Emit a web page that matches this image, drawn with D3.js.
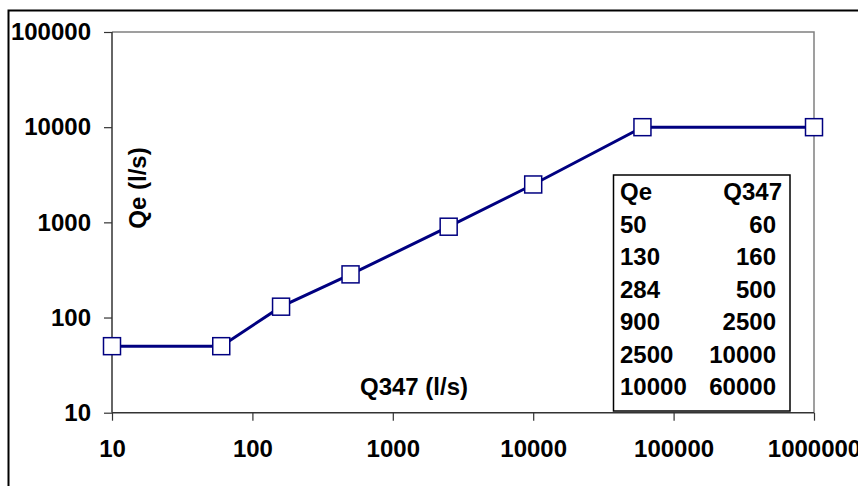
<!DOCTYPE html>
<html>
<head>
<meta charset="utf-8">
<script src="https://cdn.jsdelivr.net/npm/d3@7"></script>
<style>
  body { margin: 0; background: #fff; }
  svg text { font-family: "Liberation Sans", Arial, sans-serif; font-weight: bold; fill: #000; }
</style>
</head>
<body>
<div id="chart"></div>
<script>
// Q347 (x) against Qe (y), both on log scales
var q347 = [10, 60, 160, 500, 2500, 10000, 60000, 1000000];
var qe   = [50, 50, 130, 284, 900, 2500, 10000, 10000];

var xTicks = [10, 100, 1000, 10000, 100000, 1000000];
var yTicks = [10, 100, 1000, 10000, 100000];

// the little table in the plot
var tableHead = ["Qe", "Q347"];
var tableQe   = ["50", "130", "284", "900", "2500", "10000"];
var tableQ347 = ["60", "160", "500", "2500", "10000", "60000"];

var width  = 858,
    height = 486;

var plot = {left: 112, right: 814, top: 32, bottom: 412.7};
var fs   = 24;

var svg = d3.select("#chart").append("svg")
  .attr("width",  width)
  .attr("height", height);

// outer chart border, runs off the right and bottom
svg.append("rect")
  .attr("x", 8.5).attr("y", 10.5)
  .attr("width", 900).attr("height", 600)
  .attr("fill", "none")
  .attr("stroke", "#000")
  .attr("stroke-width", 2);

var x = d3.scaleLog().domain([10, 1000000]).range([plot.left, plot.right]);
var y = d3.scaleLog().domain([10, 100000]).range([plot.bottom, plot.top]);

// plot area frame (grey top/right)
svg.append("path")
  .attr("d", "M" + plot.left + "," + plot.top + "H" + plot.right + "V" + plot.bottom)
  .attr("fill", "none")
  .attr("stroke", "#808080")
  .attr("stroke-width", 1.5);

// axes
var fmt = d3.format("d");

var xAxis = svg.append("g")
  .attr("transform", "translate(0," + plot.bottom + ")")
  .call(d3.axisBottom(x).tickValues(xTicks).tickFormat(fmt).tickSize(8).tickPadding(19));

var yAxis = svg.append("g")
  .attr("transform", "translate(" + plot.left + ",0)")
  .call(d3.axisLeft(y).tickValues(yTicks).tickFormat(fmt).tickSize(8).tickPadding(13));

[xAxis, yAxis].forEach(function(ax) {
  ax.select(".domain").attr("stroke", "#333").attr("stroke-width", 1.5);
  ax.selectAll(".tick line").attr("stroke", "#333").attr("stroke-width", 1.2);
  ax.selectAll(".tick text")
    .attr("font-size", fs)
    .attr("font-family", "Liberation Sans, Arial, sans-serif")
    .attr("font-weight", "bold")
    .attr("fill", "#000");
});
xAxis.select(".domain").attr("d", "M" + plot.left + ",0H" + plot.right);
yAxis.select(".domain").attr("d", "M0," + plot.top + "V" + plot.bottom);

// axis titles
svg.append("text")
  .attr("x", 414)
  .attr("y", 395)
  .attr("font-size", fs)
  .attr("text-anchor", "middle")
  .text("Q347 (l/s)");

svg.append("text")
  .attr("transform", "translate(146,188) rotate(-90)")
  .attr("font-size", fs)
  .attr("text-anchor", "middle")
  .text("Qe (l/s)");

// series line and markers
var line = d3.line()
  .x(function(d, i) { return x(q347[i]); })
  .y(function(d) { return y(d); });

svg.append("path")
  .datum(qe)
  .attr("d", line)
  .attr("fill", "none")
  .attr("stroke", "#000080")
  .attr("stroke-width", 3);

var ms = 17;
svg.selectAll("rect.marker")
  .data(qe)
  .enter()
  .append("rect")
  .attr("class", "marker")
  .attr("x", function(d, i) { return x(q347[i]) - ms / 2; })
  .attr("y", function(d) { return y(d) - ms / 2; })
  .attr("width",  ms)
  .attr("height", ms)
  .attr("fill", "#fff")
  .attr("stroke", "#000080")
  .attr("stroke-width", 1.5);

// data table box
var tbl = {x: 613.5, y: 175, w: 176.5, h: 236, left: 620, right: 776, row: 32.5, base: 200};

svg.append("rect")
  .attr("x", tbl.x).attr("y", tbl.y)
  .attr("width", tbl.w).attr("height", tbl.h)
  .attr("fill", "#fff")
  .attr("stroke", "#000")
  .attr("stroke-width", 1.5);

svg.append("text")
  .attr("x", tbl.left).attr("y", tbl.base)
  .attr("font-size", fs)
  .text(tableHead[0]);

svg.append("text")
  .attr("x", tbl.right + 6).attr("y", tbl.base)
  .attr("font-size", fs)
  .attr("text-anchor", "end")
  .text(tableHead[1]);

tableQe.forEach(function(v, i) {
  var yy = tbl.base + (i + 1) * tbl.row;
  svg.append("text")
    .attr("x", tbl.left).attr("y", yy)
    .attr("font-size", fs)
    .text(v);
  svg.append("text")
    .attr("x", tbl.right).attr("y", yy)
    .attr("font-size", fs)
    .attr("text-anchor", "end")
    .text(tableQ347[i]);
});
</script>
</body>
</html>
